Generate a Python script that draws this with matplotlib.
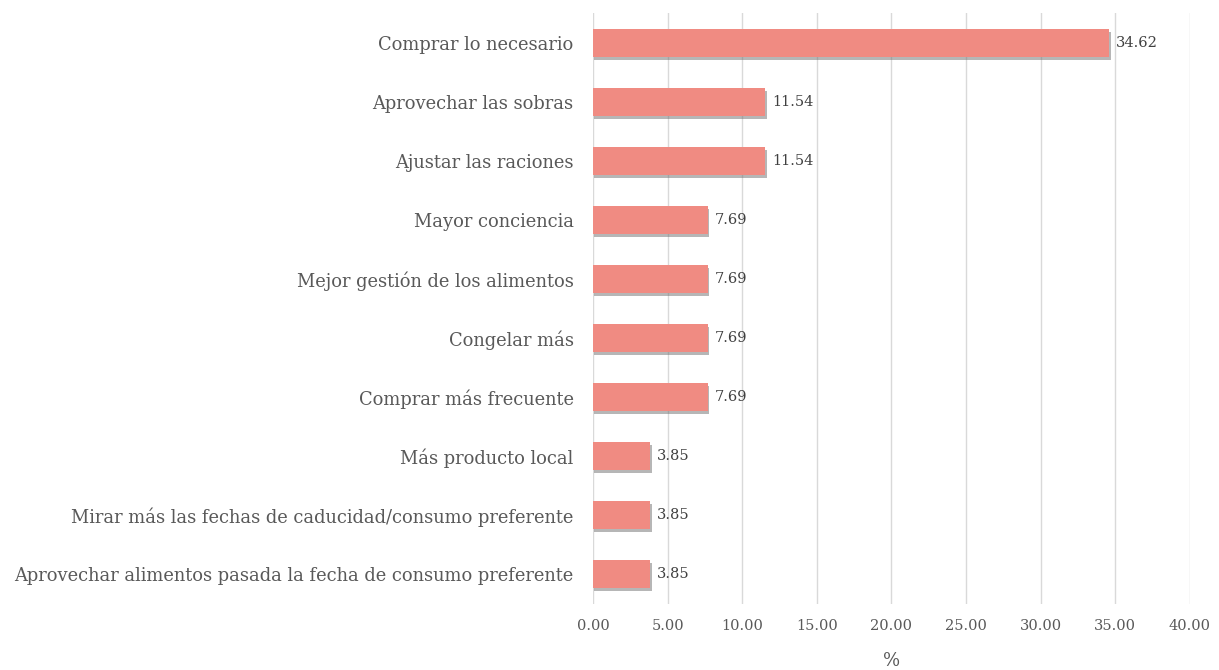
import matplotlib
matplotlib.use("Agg")
import matplotlib.pyplot as plt
import matplotlib.patheffects as pe

categorias = [
    "Comprar lo necesario",
    "Aprovechar las sobras",
    "Ajustar las raciones",
    "Mayor conciencia",
    "Mejor gestión de los alimentos",
    "Congelar más",
    "Comprar más frecuente",
    "Más producto local",
    "Mirar más las fechas de caducidad/consumo preferente",
    "Aprovechar alimentos pasada la fecha de consumo preferente",
]
porcentajes = [34.62, 11.54, 11.54, 7.69, 7.69, 7.69, 7.69, 3.85, 3.85, 3.85]
ticks_x = [0, 5, 10, 15, 20, 25, 30, 35, 40]

gris = "#595959"
plt.rcParams["font.family"] = ["DejaVu Serif"]

fig = plt.figure(figsize=(12.19, 6.70), dpi=100)
ax = fig.add_axes([0.4865, 0.099, 0.4895, 0.881])

y = list(range(len(categorias)))
barras = ax.barh(y, porcentajes, height=0.48, color="#F08B82", zorder=3)
for b in barras:
    b.set_path_effects([pe.SimplePatchShadow(offset=(1, -2), shadow_rgbFace="#6e6e6e", alpha=0.5),
                        pe.Normal()])

for yi, v in zip(y, porcentajes):
    ax.text(v + 0.45, yi, f"{v:.2f}", va="center", ha="left", fontsize=10.5, color="#404040")

ax.set_ylim(len(categorias) - 0.5, -0.5)
ax.set_xlim(0, 40)
ax.set_xticks(ticks_x)
ax.set_xticklabels([f"{t:.2f}" for t in ticks_x], fontsize=10.5, color=gris)
ax.set_yticks(y)
ax.set_yticklabels(categorias, fontsize=12.9, color=gris)
ax.tick_params(axis="both", length=0)
ax.tick_params(axis="y", pad=14)
ax.tick_params(axis="x", pad=11)
ax.xaxis.grid(True, color="#d9d9d9", linewidth=1, zorder=0)
for s in ax.spines.values():
    s.set_visible(False)
ax.set_xlabel("%", fontsize=13, color=gris, labelpad=14)

fig.savefig("out.png", dpi=100, facecolor="white")
